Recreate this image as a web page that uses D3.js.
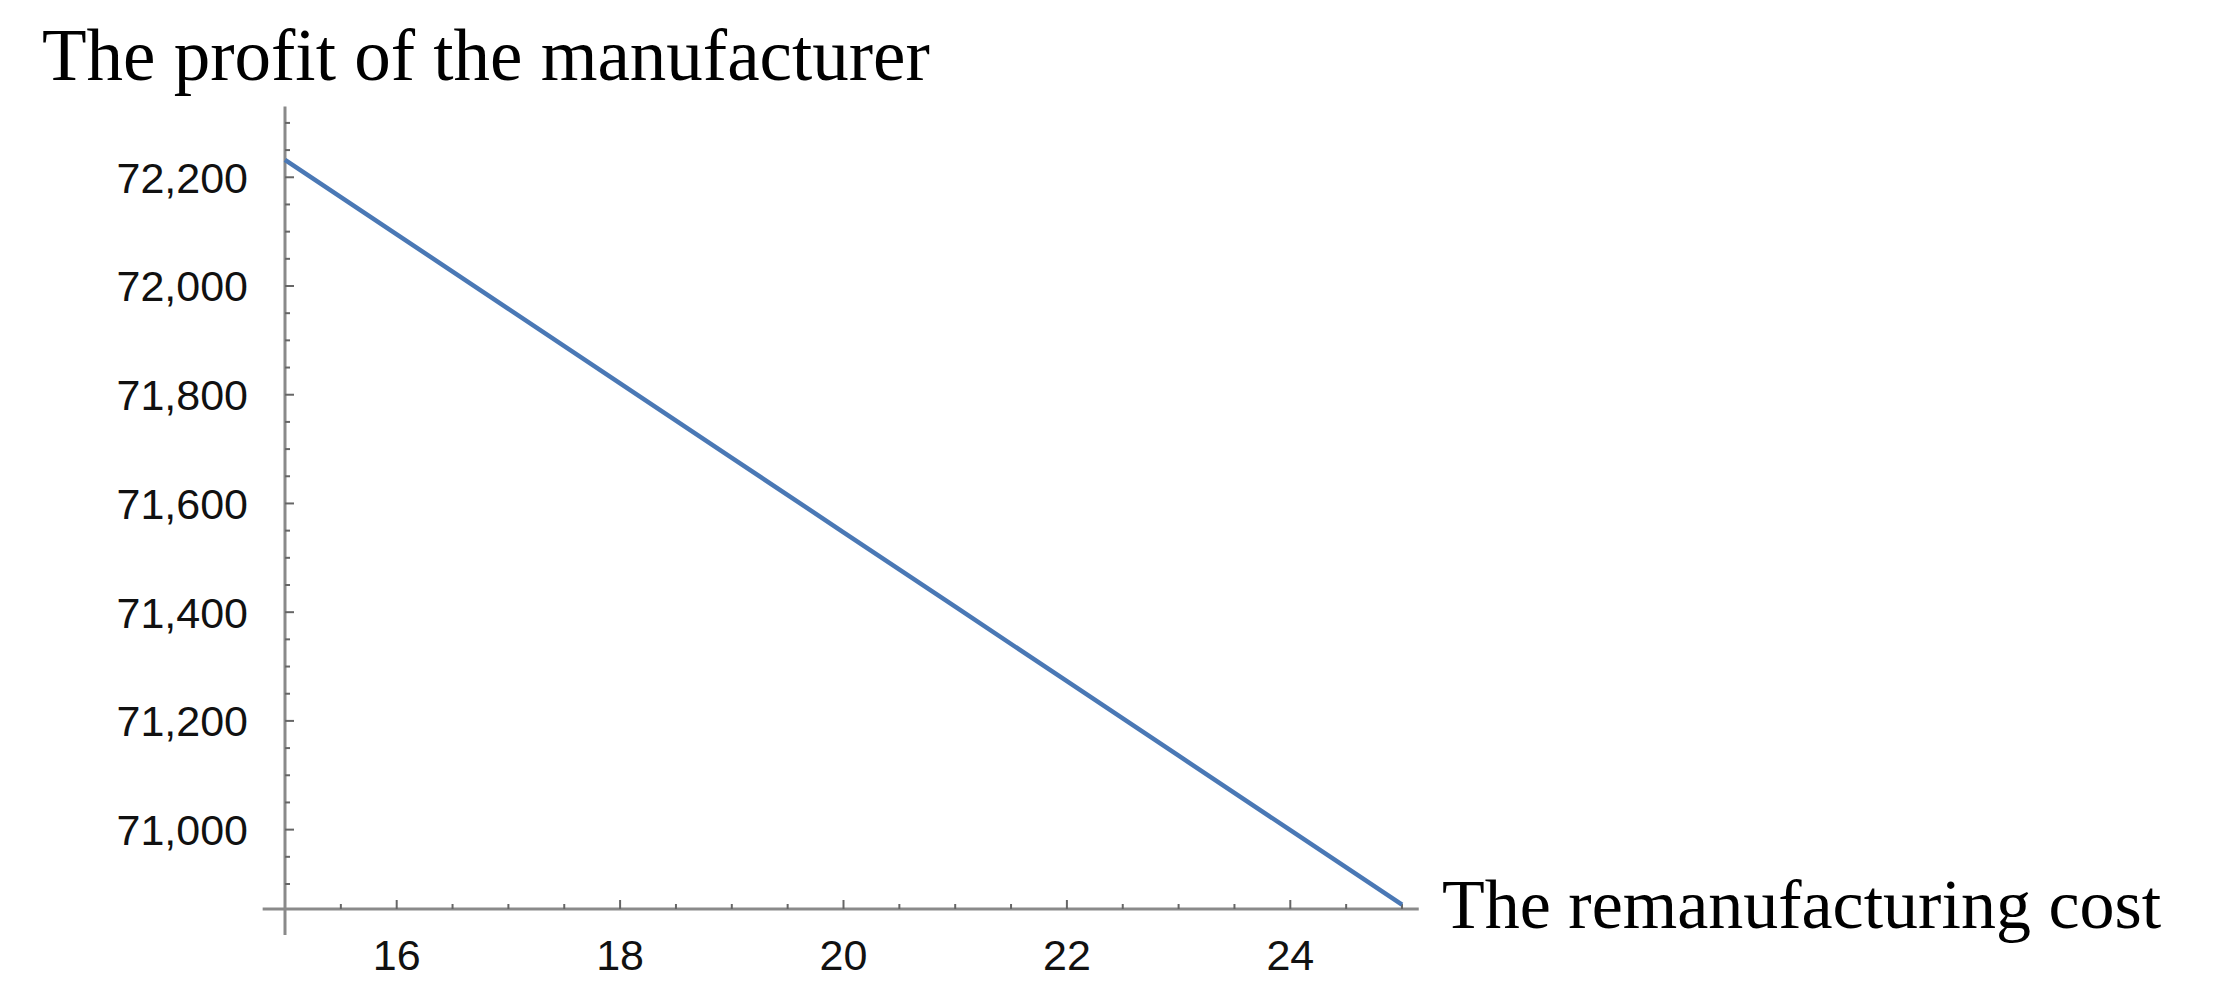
<!DOCTYPE html>
<html>
<head>
<meta charset="utf-8">
<script src="https://cdn.jsdelivr.net/npm/d3@7"></script>
<style>
  body { margin: 0; background: #fff; }
</style>
</head>
<body>
<svg id="chart" width="2220" height="987"></svg>
<script>
// remanufacturing cost vs manufacturer profit
const cost = [15, 16, 17, 18, 19, 20, 21, 22, 23, 24, 25];
const profit = [72232, 72095, 71958, 71821, 71684, 71547, 71410, 71273, 71136, 70999, 70862];
const yTicks = [71000, 71200, 71400, 71600, 71800, 72000, 72200];
const xTicks = [16, 18, 20, 22, 24];

const svg = d3.select('#chart');

let x = d3.scaleLinear().domain([15, 25]).range([285, 1402]);
let y = d3.scaleLinear().domain([70854, 72000]).range([909, 286]);

const axisColor = '#8a8a8a';

// y axis line (runs a bit below the x axis, like the original)
svg.append('line')
    .attr('x1', x(15)).attr('x2', x(15))
    .attr('y1', y(72330)).attr('y2', 935)
    .attr('stroke', axisColor).attr('stroke-width', 3);

// x axis line
svg.append('line')
    .attr('x1', x(14.8)).attr('x2', x(25.15))
    .attr('y1', y(70854)).attr('y2', y(70854))
    .attr('stroke', axisColor).attr('stroke-width', 3);

// minor + major ticks on y
let yMinor = d3.range(70900, 72330, 50);
svg.selectAll('.ytick').data(yMinor).enter().append('line')
    .attr('x1', x(15)).attr('x2', d => x(15) + (d % 200 == 0 ? 9 : 5))
    .attr('y1', d => y(d)).attr('y2', d => y(d))
    .attr('stroke', '#666').attr('stroke-width', 2);

let xMinor = d3.range(15.5, 25.01, 0.5);
svg.selectAll('.xtick').data(xMinor).enter().append('line')
    .attr('x1', d => x(d)).attr('x2', d => x(d))
    .attr('y1', y(70854)).attr('y2', d => y(70854) - (d % 2 == 0 ? 9 : 5))
    .attr('stroke', '#666').attr('stroke-width', 2);

let fmt = d3.format(',');

svg.selectAll('.ylabel').data(yTicks).enter().append('text')
    .attr('x', 248)
    .attr('y', d => y(d))
    .attr('dy', '0.36em')
    .attr('text-anchor', 'end')
    .style('font-family', 'Liberation Sans, Arial, sans-serif')
    .style('font-size', '43px')
    .attr('fill', '#111')
    .text(d => fmt(d));

svg.selectAll('.xlabel').data(xTicks).enter().append('text')
    .attr('x', d => x(d))
    .attr('y', 970)
    .attr('text-anchor', 'middle')
    .style('font-family', 'Liberation Sans, Arial, sans-serif')
    .style('font-size', '43px')
    .attr('fill', '#111')
    .text(d => d);

// the line itself
let line = d3.line()
    .x((d, i) => x(cost[i]))
    .y(d => y(d));

svg.append('path')
    .datum(profit)
    .attr('d', line)
    .attr('fill', 'none')
    .attr('stroke', '#4a78b5')
    .attr('stroke-width', 4.5);

// axis titles
svg.append('text')
    .attr('x', 42).attr('y', 80)
    .style('font-family', 'Liberation Serif, Times New Roman, serif')
    .style('font-size', '73px')
    .attr('fill', '#000')
    .text('The profit of the manufacturer');

svg.append('text')
    .attr('x', 1442).attr('y', 928)
    .style('font-family', 'Liberation Serif, Times New Roman, serif')
    .style('font-size', '70px')
    .attr('fill', '#000')
    .text('The remanufacturing cost');
</script>
</body>
</html>
